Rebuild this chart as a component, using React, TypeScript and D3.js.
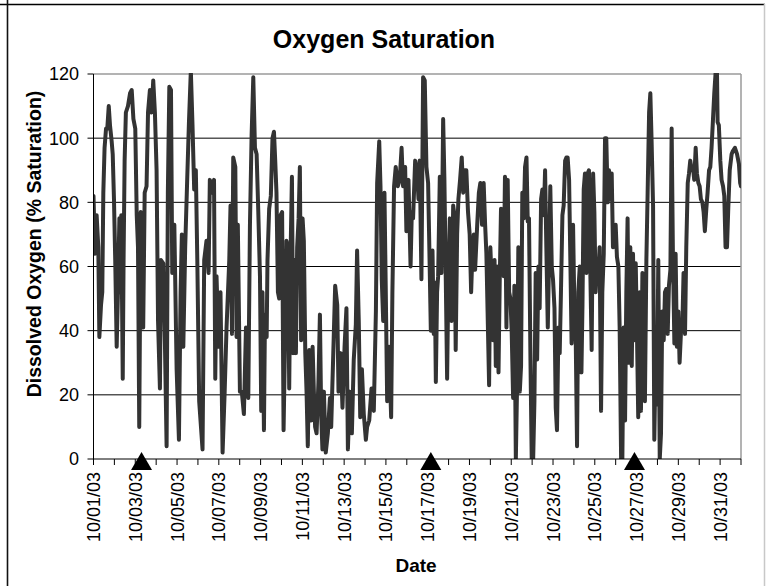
import * as d3 from "d3";

// readings as [days since 10/01/03 00:00, % saturation]
const WEEK_1: [number, number][] = [
  [0.0, 82], [0.07, 64], [0.15, 76], [0.23, 66], [0.28, 38], [0.36, 48], [0.42, 52], [0.47, 83],
  [0.53, 97], [0.6, 103], [0.66, 103], [0.73, 110], [0.79, 104], [0.87, 99], [0.92, 95], [0.98, 81],
  [1.04, 62], [1.11, 35], [1.17, 52], [1.24, 75], [1.3, 52], [1.33, 76], [1.4, 25], [1.44, 62],
  [1.49, 93], [1.55, 108], [1.65, 110], [1.75, 114], [1.83, 115], [1.91, 106], [2.0, 103], [2.07, 76],
  [2.13, 66], [2.19, 10], [2.26, 77], [2.32, 62], [2.38, 41], [2.45, 83], [2.54, 85], [2.61, 108],
  [2.7, 115], [2.78, 108], [2.86, 118], [2.94, 108], [3.02, 90], [3.09, 43], [3.18, 22], [3.23, 62],
  [3.34, 61], [3.42, 36], [3.5, 4], [3.56, 83], [3.63, 116], [3.71, 115], [3.77, 58], [3.87, 73],
  [3.98, 28], [4.09, 6], [4.17, 52], [4.23, 70], [4.3, 35], [4.39, 66], [4.49, 88], [4.57, 105],
  [4.66, 121], [4.74, 104], [4.82, 84], [4.9, 90], [4.97, 62], [5.06, 18], [5.22, 3], [5.3, 62],
  [5.41, 68], [5.51, 58], [5.57, 87], [5.67, 83], [5.77, 87], [5.83, 25], [5.89, 57], [5.99, 35],
  [6.08, 52], [6.18, 2], [6.28, 21], [6.37, 41], [6.5, 62], [6.56, 79], [6.63, 39], [6.69, 94],
  [6.79, 91], [6.85, 38], [6.91, 73], [7.01, 21], [7.1, 21], [7.2, 14], [7.3, 41], [7.41, 19],
  [7.49, 73], [7.57, 101], [7.65, 119],
];

const WEEK_2: [number, number][] = [
  [7.73, 97], [7.81, 95], [7.89, 77], [7.97, 57], [8.03, 15], [8.09, 52], [8.16, 9], [8.21, 45],
  [8.29, 38], [8.33, 62], [8.41, 78], [8.49, 82], [8.57, 100], [8.64, 102], [8.7, 93], [8.76, 83],
  [8.83, 52], [8.89, 50], [8.96, 76], [9.03, 77], [9.1, 9], [9.18, 41], [9.24, 68], [9.31, 66],
  [9.37, 22], [9.43, 62], [9.5, 88], [9.56, 33], [9.63, 62], [9.69, 33], [9.75, 66], [9.82, 75],
  [9.88, 91], [9.94, 37], [10.01, 75], [10.07, 68], [10.14, 33], [10.2, 21], [10.26, 4], [10.33, 34],
  [10.42, 12], [10.49, 35], [10.55, 21], [10.61, 10], [10.68, 8], [10.77, 24], [10.84, 45], [10.9, 14],
  [10.96, 3], [11.03, 21], [11.12, 2], [11.22, 8], [11.32, 19], [11.38, 10], [11.48, 33], [11.57, 54],
  [11.67, 48], [11.73, 21], [11.83, 33], [11.92, 16], [12.02, 35], [12.11, 47], [12.18, 3], [12.27, 21],
  [12.37, 8], [12.46, 31], [12.56, 42], [12.62, 65], [12.7, 43], [12.77, 13], [12.85, 28], [12.94, 14],
  [13.04, 6], [13.1, 10], [13.2, 12], [13.31, 22], [13.42, 15], [13.52, 46], [13.58, 86], [13.68, 99],
  [13.74, 85], [13.8, 56], [13.87, 43], [13.93, 83], [13.99, 54], [14.06, 18], [14.15, 35], [14.25, 13],
  [14.31, 52], [14.39, 85], [14.47, 91], [14.57, 85], [14.66, 87], [14.75, 97], [14.82, 85], [14.92, 91],
  [14.98, 71], [15.08, 87], [15.18, 60], [15.24, 77], [15.3, 75], [15.4, 93], [15.49, 90], [15.56, 81],
  [15.62, 93], [15.7, 56], [15.78, 119],
];

const WEEK_3: [number, number][] = [
  [15.86, 118], [15.94, 91], [16.02, 86], [16.07, 69], [16.15, 40], [16.23, 65], [16.29, 39], [16.34, 55],
  [16.39, 24], [16.45, 52], [16.5, 57], [16.58, 88], [16.66, 58], [16.74, 106], [16.8, 87], [16.87, 54],
  [16.93, 25], [16.99, 56], [17.06, 75], [17.14, 43], [17.22, 79], [17.28, 76], [17.34, 34], [17.41, 70],
  [17.47, 81], [17.55, 87], [17.63, 94], [17.7, 83], [17.77, 90], [17.85, 90], [17.93, 77], [18.01, 70],
  [18.08, 52], [18.14, 64], [18.21, 70], [18.27, 59], [18.37, 73], [18.45, 83], [18.52, 86], [18.6, 73],
  [18.68, 86], [18.75, 73], [18.81, 64], [18.88, 42], [18.94, 23], [19.0, 66], [19.07, 54], [19.13, 37],
  [19.2, 62], [19.26, 29], [19.32, 60], [19.39, 27], [19.45, 56], [19.51, 78], [19.58, 66], [19.64, 57],
  [19.7, 88], [19.77, 41], [19.83, 87], [19.9, 52], [19.96, 50], [20.02, 40], [20.09, 19], [20.15, 54],
  [20.22, 0], [20.28, 23], [20.34, 66], [20.41, 21], [20.47, 29], [20.53, 83], [20.6, 75], [20.66, 91],
  [20.73, 94], [20.79, 74], [20.85, 75], [20.92, 31], [20.98, 0], [21.05, 0], [21.11, 18], [21.17, 58],
  [21.24, 31], [21.3, 60], [21.36, 47], [21.43, 81], [21.49, 84], [21.56, 76], [21.62, 90], [21.68, 66],
  [21.75, 41], [21.81, 62], [21.87, 85], [21.94, 60], [22.0, 56], [22.07, 47], [22.13, 16], [22.19, 9],
  [22.26, 41], [22.32, 33], [22.38, 52], [22.45, 76], [22.51, 79], [22.58, 93], [22.64, 94], [22.7, 94],
  [22.77, 87], [22.83, 62], [22.89, 36], [22.96, 73], [23.02, 48], [23.09, 36], [23.15, 4], [23.21, 52],
  [23.28, 60],
];

const WEEK_4: [number, number][] = [
  [23.36, 27], [23.41, 48], [23.47, 84], [23.53, 89], [23.6, 58], [23.66, 89], [23.72, 90], [23.79, 57],
  [23.85, 34], [23.92, 89], [23.98, 77], [24.04, 52], [24.11, 62], [24.17, 58], [24.23, 66], [24.3, 15],
  [24.36, 52], [24.43, 64], [24.49, 100], [24.55, 100], [24.62, 80], [24.68, 90], [24.75, 81], [24.81, 89],
  [24.87, 66], [24.94, 68], [25.0, 73], [25.06, 63], [25.13, 60], [25.19, 41], [25.26, 0], [25.32, 0],
  [25.38, 41], [25.45, 12], [25.51, 52], [25.57, 75], [25.64, 30], [25.7, 66], [25.77, 29], [25.83, 64],
  [25.89, 37], [25.96, 61], [26.02, 39], [26.08, 13], [26.15, 52], [26.21, 15], [26.28, 58], [26.34, 41],
  [26.4, 18], [26.47, 62], [26.53, 83], [26.6, 108], [26.66, 114], [26.72, 99], [26.79, 79], [26.85, 6],
  [26.91, 31], [26.98, 17], [27.04, 62], [27.11, 0], [27.17, 8], [27.23, 46], [27.3, 37], [27.36, 52],
  [27.42, 53], [27.49, 39], [27.55, 54], [27.62, 59], [27.68, 103], [27.74, 64], [27.81, 36], [27.87, 64],
  [27.93, 35], [28.0, 46], [28.06, 30], [28.13, 40], [28.19, 41], [28.25, 58], [28.32, 39], [28.38, 66],
  [28.45, 86], [28.51, 89], [28.57, 93], [28.64, 90], [28.7, 91], [28.76, 87], [28.83, 97], [28.89, 89],
  [28.96, 86], [29.02, 85], [29.08, 81], [29.15, 80], [29.21, 77], [29.27, 71], [29.34, 78], [29.4, 83],
  [29.47, 90], [29.53, 91], [29.59, 97], [29.66, 106], [29.72, 114], [29.79, 121], [29.85, 121], [29.88, 105],
  [29.94, 104], [30.01, 93], [30.07, 87], [30.14, 85], [30.2, 82], [30.26, 66], [30.33, 66], [30.39, 78],
  [30.46, 90], [30.55, 95], [30.61, 96], [30.71, 97], [30.81, 95], [30.9, 92], [30.96, 86], [31.0, 85],
];

// triangles along the date axis
const MARKER_DAYS = [2.3, 16.15, 25.9];

const Y_TICKS = [0, 20, 40, 60, 80, 100, 120];
const START = new Date(2003, 9, 1);
const END = new Date(2003, 10, 1);
const DAY_MS = 864e5;

const WIDTH = 770;
const HEIGHT = 586;
const PLOT = { left: 93.5, right: 741, top: 74, bottom: 459 };
const FONT = "'Liberation Sans', Arial, sans-serif";

const toDate = (d: number) => new Date(START.getTime() + d * DAY_MS);

export default function App() {
  const x = d3.scaleTime().domain([START, END]).range([PLOT.left, PLOT.right]);
  const y = d3.scaleLinear().domain([0, 120]).range([PLOT.bottom, PLOT.top]);

  const readings = [...WEEK_1, ...WEEK_2, ...WEEK_3, ...WEEK_4];
  const path =
    d3
      .line<[number, number]>()
      .x(d => x(toDate(d[0])))
      .y(d => y(d[1]))(readings) ?? "";

  const dayTicks = d3.timeDay.range(START, d3.timeDay.offset(END, 1));
  const labelTicks = dayTicks.filter((_, i) => i % 2 === 0 && i < 31);
  const fmt = d3.timeFormat("%m/%d/%y");

  return (
    <svg
      width={WIDTH}
      height={HEIGHT}
      style={{ position: "absolute", left: 0, top: 0, background: "#fff" }}
      fontFamily={FONT}
    >
      <defs>
        <clipPath id="plot-clip">
          <rect x={PLOT.left} y={PLOT.top - 1} width={PLOT.right - PLOT.left} height={PLOT.bottom - PLOT.top + 1} />
        </clipPath>
      </defs>

      {/* outer frame */}
      <line x1={0} x2={765} y1={4.5} y2={4.5} stroke="#000" strokeWidth={1.6} />
      <line x1={7.5} x2={7.5} y1={0} y2={HEIGHT} stroke="#111" strokeWidth={1.6} />
      <line x1={764.5} x2={764.5} y1={4} y2={HEIGHT} stroke="#c8c8c8" strokeWidth={1.5} />

      <text x={384} y={48} textAnchor="middle" fontSize={25} fontWeight="bold">
        Oxygen Saturation
      </text>

      {/* grid */}
      {Y_TICKS.filter(t => t > 0 && t < 120).map(t => (
        <line key={t} x1={PLOT.left} x2={PLOT.right} y1={y(t)} y2={y(t)} stroke="#000" strokeWidth={1} />
      ))}
      <line x1={PLOT.left} x2={PLOT.right} y1={PLOT.top} y2={PLOT.top} stroke="#9a9a9a" strokeWidth={1.5} />
      <line x1={PLOT.right} x2={PLOT.right} y1={PLOT.top} y2={PLOT.bottom} stroke="#9a9a9a" strokeWidth={1.5} />

      {/* series */}
      <path
        d={path}
        fill="none"
        stroke="#333"
        strokeWidth={4}
        strokeLinejoin="round"
        strokeLinecap="round"
        clipPath="url(#plot-clip)"
      />

      {/* y axis */}
      <line x1={PLOT.left} x2={PLOT.left} y1={PLOT.top} y2={PLOT.bottom} stroke="#000" />
      {Y_TICKS.map(t => (
        <g key={t} transform={`translate(0,${y(t)})`}>
          <line x1={PLOT.left - 6} x2={PLOT.left} stroke="#000" />
          <text x={79} dy="0.36em" textAnchor="end" fontSize={18}>
            {t}
          </text>
        </g>
      ))}
      <text
        transform={`translate(34,244) rotate(-90)`}
        dy="0.36em"
        textAnchor="middle"
        fontSize={19.5}
        fontWeight="bold"
      >
        Dissolved Oxygen (% Saturation)
      </text>

      {/* x axis */}
      <line x1={PLOT.left} x2={PLOT.right} y1={PLOT.bottom} y2={PLOT.bottom} stroke="#000" />
      {dayTicks.map(t => (
        <line key={+t} x1={x(t)} x2={x(t)} y1={PLOT.bottom} y2={PLOT.bottom + 6} stroke="#000" />
      ))}
      {labelTicks.map(t => (
        <text
          key={+t}
          transform={`translate(${x(t)},472) rotate(-90)`}
          dy="0.36em"
          textAnchor="end"
          fontSize={18}
        >
          {fmt(t)}
        </text>
      ))}
      <text x={416} y={572} textAnchor="middle" fontSize={19} fontWeight="bold">
        Date
      </text>

      {/* markers */}
      {MARKER_DAYS.map(d => {
        const cx = x(toDate(d));
        return (
          <path
            key={d}
            d={`M${cx},452 L${cx + 10.5},470 L${cx - 10.5},470 Z`}
            fill="#000"
          />
        );
      })}
    </svg>
  );
}
